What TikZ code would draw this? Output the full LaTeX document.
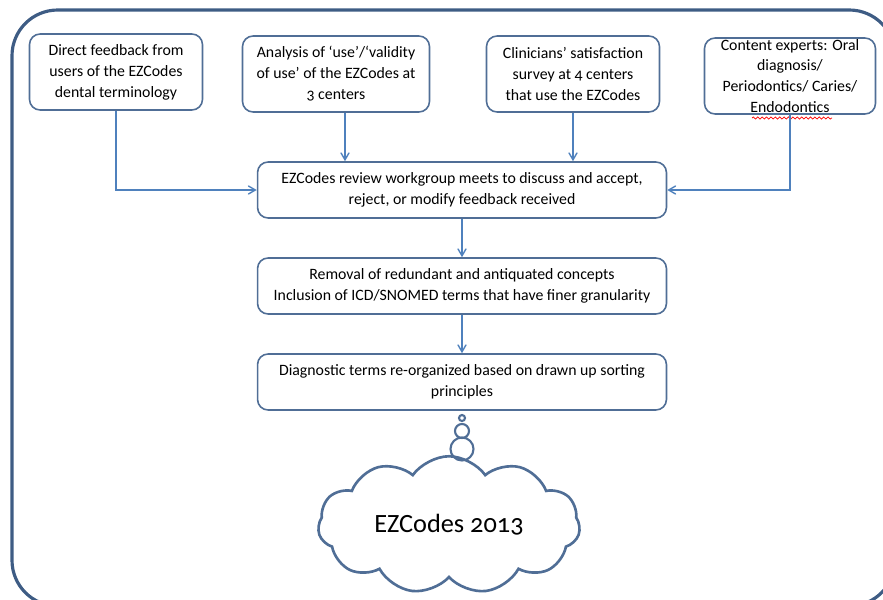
\documentclass[tikz,border=0pt]{standalone}
\usepackage{fontspec}
\setmainfont{Carlito}[Numbers=OldStyle]
\usetikzlibrary{shapes.geometric, shapes.symbols, arrows, decorations.pathmorphing}
\definecolor{boxline}{RGB}{80,110,150}
\definecolor{arrowline}{RGB}{79,129,189}
\definecolor{frameline}{RGB}{62,92,132}

\begin{document}
\begin{tikzpicture}[x=0.02cm, y=-0.02cm]
    \tikzstyle{proc}   = [rectangle, rounded corners=6pt, draw=boxline, line width=0.9pt, align=center, inner sep=2pt, font=\fontsize{9}{11.9}\selectfont]
    \tikzstyle{small}  = [proc, minimum width=3.46cm, minimum height=1.52cm]
    \tikzstyle{wide}   = [proc, minimum width=8.18cm, minimum height=1.12cm]
    \tikzstyle{bubble} = [circle, draw=boxline, line width=1.2pt, inner sep=0pt]
    \tikzstyle{arrow}  = [draw=arrowline, line width=0.8pt, ->, >=angle 60]
    \useasboundingbox (0,0) rectangle (883,599);
    % outer frame, cut by the page edge
    \begin{scope}
        \clip (0,0) rectangle (883,599);
        \draw[frameline, line width=1.8pt, rounded corners=26pt] (12,10) rectangle (895,606);
    \end{scope}
    \node (direct)   [small] at (116,72) {Direct feedback from\\users of the EZCodes\\dental terminology};
    \node (analysis) [small, minimum width=3.74cm] at (336,74) {Analysis of ‘use’/‘validity\\of use’ of the EZCodes at\\3 centers};
    \node (survey)   [small] at (573,74) {Clinicians’ satisfaction\\survey at 4 centers\\that use the EZCodes};
    \node (experts)  [small, minimum width=3.42cm, inner ysep=0pt] at (790,76) {Content experts: Oral\\diagnosis/\\Periodontics/ Caries/\\Endodontics};
    \node (review)   [wide] at (462,190) {EZCodes review workgroup meets to discuss and accept,\\reject, or modify feedback received};
    \node (removal)  [wide] at (462,286) {Removal of redundant and antiquated concepts\\Inclusion of ICD/SNOMED terms that have finer granularity};
    \node (sorting)  [wide] at (462,382) {Diagnostic terms re-organized based on drawn up sorting\\principles};
    \node (b1) [bubble, minimum size=0.12cm] at (462,418) {};
    \node (b2) [bubble, minimum size=0.28cm] at (462,431) {};
    \node (b3) [bubble, minimum size=0.46cm] at (462,449) {};
    \node (cloud) [cloud, cloud puffs=11, cloud puff arc=110, aspect=2.1, draw=boxline, line width=1.5pt, minimum width=5.24cm, minimum height=2.52cm, font=\fontsize{15}{18}\selectfont] at (449,525) {EZCodes 2013};
    \draw[red, line width=0.4pt, decorate, decoration={snake, amplitude=0.6pt, segment length=2.5pt}] (752,118) -- (832,118);
    \draw[arrow] (direct.south) |- (review.west);
    \draw[arrow] ([xshift=0.18cm]analysis.south) -- ([xshift=0.18cm]analysis.south |- review.north);
    \draw[arrow] (survey.south) -- (survey.south |- review.north);
    \draw[arrow] (experts.south) |- (review.east);
    \draw[arrow] (review) to (removal);
    \draw[arrow] (removal) to (sorting);
\end{tikzpicture}
\end{document}
